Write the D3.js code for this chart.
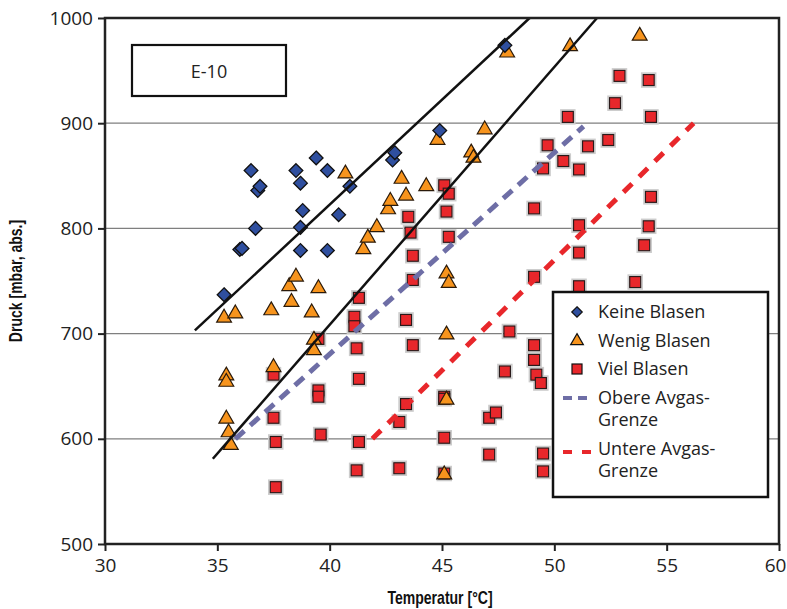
<!DOCTYPE html>
<html lang="de">
<head>
  <meta charset="UTF-8">
  <title>E-10 Druck / Temperatur</title>
  <style>
    body { margin: 0; background: #fff; }
    .tick-label { font-family: "Open Sans", "DejaVu Sans", sans-serif; font-size: 19px; fill: #222; }
    .axis-title { font-family: "Liberation Sans", "DejaVu Sans", sans-serif; font-weight: bold; font-size: 18px; fill: #111; }
    .legend-text { font-family: "Open Sans", "DejaVu Sans", sans-serif; font-size: 18px; fill: #222; }
  </style>
</head>
<body>
  <svg width="787" height="609"></svg>
  <script src="https://cdn.jsdelivr.net/npm/d3@7"></script>
  <script>
    // Keine Blasen (blue diamonds): [Temperatur, Druck]
    var keineT = [35.3, 36.0, 36.1, 36.5, 36.7, 36.8, 36.9, 38.5, 38.7, 38.8, 38.7, 38.7, 39.4, 39.9, 39.9, 40.4, 40.9, 42.8, 42.9, 44.9, 47.8]
    var keineP = [737, 780, 781, 855, 800, 836, 840, 855, 843, 817, 801, 779, 867, 855, 779, 813, 840, 865, 872, 893, 974]

    // Wenig Blasen (orange triangles)
    var wenigT = [35.3, 35.8, 35.4, 35.4, 35.4, 35.5, 35.6, 37.4, 37.5, 38.2, 38.3, 38.5, 39.2, 39.3, 39.3, 39.5,
                  40.7, 41.5, 41.7, 42.1, 42.6, 42.7, 43.2, 43.4, 44.3, 44.8, 45.2, 45.3, 45.2, 45.2, 45.1,
                  46.3, 46.4, 46.9, 47.9, 50.7, 53.8]
    var wenigP = [715, 719, 660, 654, 619, 606, 594, 722, 668, 745, 730, 754, 720, 694, 684, 743,
                  852, 780, 791, 801, 818, 826, 847, 831, 840, 884, 757, 748, 699, 637, 566,
                  872, 867, 894, 967, 973, 983]

    // Viel Blasen (red squares)
    var vielT = [37.5, 37.5, 37.6, 37.6, 39.5, 39.5, 39.5, 39.6,
                 41.1, 41.1, 41.2, 41.3, 41.3, 41.3, 41.2, 43.1, 43.1, 43.4, 43.4, 43.5, 43.6, 43.7, 43.7, 43.7,
                 45.1, 45.1, 45.1, 45.1, 45.2, 45.3, 45.3, 45.1,
                 47.1, 47.1, 47.4, 47.8, 48.0, 49.1, 49.1, 49.1, 49.2, 49.4, 49.5, 49.5, 49.1, 49.5, 49.7,
                 50.4, 50.6, 51.1, 51.1, 51.1, 51.1, 51.5, 52.4, 52.7, 52.9, 53.6, 54.0, 54.2, 54.2, 54.3, 54.3]
    var vielP = [661, 620, 597, 554, 695, 646, 640, 604,
                 716, 707, 686, 734, 657, 597, 570, 616, 572, 713, 633, 811, 796, 774, 751, 689,
                 841, 640, 601, 567, 816, 833, 792, 638,
                 620, 585, 625, 664, 702, 754, 689, 675, 661, 653, 586, 569, 819, 857, 879,
                 864, 906, 856, 803, 777, 745, 878, 884, 919, 945, 749, 784, 941, 802, 906, 830]

    // Trend lines (end points)
    var obenLine = [[34.0, 703], [48.9, 1000]]
    var untenLine = [[34.8, 581], [51.9, 1000]]
    var obereGrenze = [[35.8, 600], [51.3, 897]]
    var untereGrenze = [[41.9, 600], [56.2, 900]]

    var xTicks = [30, 35, 40, 45, 50, 55, 60]
    var yTicks = [500, 600, 700, 800, 900, 1000]

    var svg = d3.select('svg')
    var pLeft = 105, pTop = 18, pRight = 779, pBottom = 544

    var x = d3.scaleLinear().domain([30, 60]).range([pLeft, pRight])
    var y = d3.scaleLinear().domain([500, 1000]).range([pBottom, pTop])

    // grid lines
    svg.append('g').selectAll('line')
      .data(yTicks.filter(function(d) { return d > 500 && d < 1000 }))
      .enter().append('line')
      .attr('x1', pLeft).attr('x2', pRight)
      .attr('y1', function(d) { return y(d) }).attr('y2', function(d) { return y(d) })
      .attr('stroke', '#7f7f7f').attr('stroke-width', 1.2)

    // axes
    var yAxis = svg.append('g')
      .attr('transform', 'translate(' + pLeft + ',0)')
      .call(d3.axisLeft(y).tickValues(yTicks).tickFormat(d3.format('d')).tickSize(7).tickPadding(5))
    var xAxis = svg.append('g')
      .attr('transform', 'translate(0,' + pBottom + ')')
      .call(d3.axisBottom(x).tickValues(xTicks).tickFormat(d3.format('d')).tickSize(7).tickPadding(8))
    ;[xAxis, yAxis].forEach(function(a) {
      a.select('.domain').remove()
      a.selectAll('line').attr('stroke', '#222').attr('stroke-width', 2)
      a.selectAll('text').attr('class', 'tick-label')
      a.attr('font-size', null).attr('font-family', null)
    })
    svg.selectAll('.tick-label').attr('fill', null)
    xAxis.selectAll('text').filter(function(d) { return d === 60 }).attr('dx', -4)

    var marks = svg.append('g')

    // squares with a light halo
    var sq = 11
    marks.selectAll('.halo').data(vielT).enter().append('rect')
      .attr('x', function(d) { return x(d) - sq / 2 - 1.5 })
      .attr('y', function(d, i) { return y(vielP[i]) - sq / 2 - 1.5 })
      .attr('width', sq + 3).attr('height', sq + 3)
      .attr('fill', 'none').attr('stroke', '#cccccc').attr('stroke-width', 1.5)
    marks.selectAll('.sq').data(vielT).enter().append('rect')
      .attr('x', function(d) { return x(d) - sq / 2 })
      .attr('y', function(d, i) { return y(vielP[i]) - sq / 2 })
      .attr('width', sq).attr('height', sq)
      .attr('fill', '#e8272b').attr('stroke', '#2a1a1a').attr('stroke-width', 1.2)

    var tri = d3.symbol().type(d3.symbolTriangle).size(95)
    marks.selectAll('.tri').data(wenigT).enter().append('path')
      .attr('d', tri)
      .attr('transform', function(d, i) { return 'translate(' + x(d) + ',' + y(wenigP[i]) + ')' })
      .attr('fill', '#f7941d').attr('stroke', '#2a1a0a').attr('stroke-width', 1.2)

    var dia = d3.symbol().type(d3.symbolDiamond2).size(120)
    marks.selectAll('.dia').data(keineT).enter().append('path')
      .attr('d', dia)
      .attr('transform', function(d, i) { return 'translate(' + x(d) + ',' + y(keineP[i]) + ')' })
      .attr('fill', '#2f4f9f').attr('stroke', '#111').attr('stroke-width', 1.3)

    var line = d3.line().x(function(d) { return x(d[0]) }).y(function(d) { return y(d[1]) })
    svg.append('path').attr('d', line(obenLine)).attr('fill', 'none').attr('stroke', '#111').attr('stroke-width', 2.5)
    svg.append('path').attr('d', line(untenLine)).attr('fill', 'none').attr('stroke', '#111').attr('stroke-width', 2.5)
    svg.append('path').attr('d', line(obereGrenze)).attr('fill', 'none')
      .attr('stroke', '#6e6ea6').attr('stroke-width', 5).attr('stroke-dasharray', '12,8')
    svg.append('path').attr('d', line(untereGrenze)).attr('fill', 'none')
      .attr('stroke', '#e8272b').attr('stroke-width', 5).attr('stroke-dasharray', '12,10')

    // plot frame
    svg.append('rect')
      .attr('x', pLeft).attr('y', pTop).attr('width', pRight - pLeft).attr('height', pBottom - pTop)
      .attr('fill', 'none').attr('stroke', '#222').attr('stroke-width', 2.5)

    // E-10 label box
    svg.append('rect').attr('x', 132).attr('y', 45).attr('width', 154).attr('height', 51)
      .attr('fill', '#fff').attr('stroke', '#111').attr('stroke-width', 2.2)
    svg.append('text').attr('class', 'legend-text').attr('x', 209).attr('y', 78)
      .attr('text-anchor', 'middle').text('E-10')

    // legend
    var lg = svg.append('g')
    lg.append('rect').attr('x', 553).attr('y', 292).attr('width', 215).attr('height', 205)
      .attr('fill', '#fff').attr('stroke', '#111').attr('stroke-width', 2.5)
    var lx = 577, tx = 598
    lg.append('path').attr('d', d3.symbol().type(d3.symbolDiamond2).size(70))
      .attr('transform', 'translate(' + lx + ',312)').attr('fill', '#2f4f9f').attr('stroke', '#111').attr('stroke-width', 1.2)
    lg.append('path').attr('d', d3.symbol().type(d3.symbolTriangle).size(70))
      .attr('transform', 'translate(' + lx + ',341)').attr('fill', '#f7941d').attr('stroke', '#111').attr('stroke-width', 1.2)
    lg.append('rect').attr('x', lx - 5).attr('y', 364).attr('width', 10).attr('height', 10)
      .attr('fill', '#e8272b').attr('stroke', '#111').attr('stroke-width', 1.2)
    lg.append('line').attr('x1', 563).attr('x2', 591).attr('y1', 398).attr('y2', 398)
      .attr('stroke', '#6e6ea6').attr('stroke-width', 4).attr('stroke-dasharray', '9,6')
    lg.append('line').attr('x1', 563).attr('x2', 591).attr('y1', 452).attr('y2', 452)
      .attr('stroke', '#e8272b').attr('stroke-width', 4).attr('stroke-dasharray', '9,10')

    var legendText = [['Keine Blasen', 318], ['Wenig Blasen', 347], ['Viel Blasen', 375],
                      ['Obere Avgas-', 404], ['Grenze', 426], ['Untere Avgas-', 455], ['Grenze', 477]]
    lg.selectAll('.lt').data(legendText).enter().append('text')
      .attr('class', 'legend-text').attr('x', tx)
      .attr('y', function(d) { return d[1] }).text(function(d) { return d[0] })

    // axis titles (condensed look)
    svg.append('text').attr('class', 'axis-title')
      .attr('transform', 'translate(' + ((pLeft + pRight) / 2 - 2) + ',604) scale(0.78,1)')
      .attr('text-anchor', 'middle')
      .text('Temperatur [°C]')
    svg.append('text').attr('class', 'axis-title')
      .attr('transform', 'translate(22,' + (pTop + pBottom) / 2 + ') rotate(-90) scale(0.78,1)')
      .attr('text-anchor', 'middle')
      .text('Druck [mbar, abs.]')
  </script>
</body>
</html>
